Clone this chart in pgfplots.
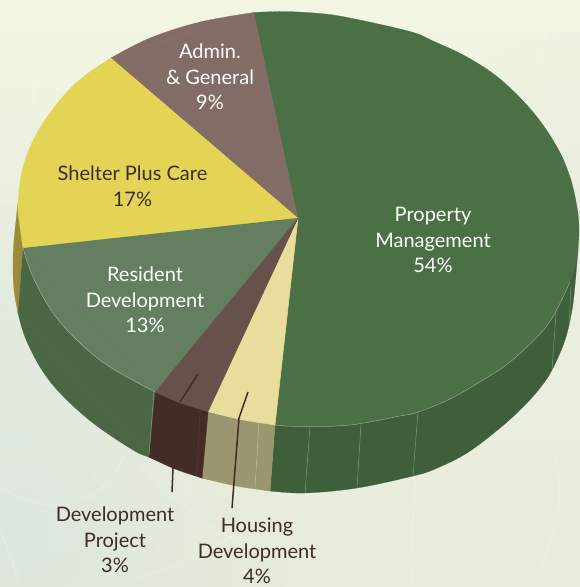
\documentclass[border=0pt]{standalone}
\usepackage{pgfplots}
\pgfplotsset{compat=1.18}
\usepackage{fontspec}
\setmainfont{Lato}
\usetikzlibrary{fadings}
\tikzfading[name=radfade,inner color=transparent!0,outer color=transparent!100]
\definecolor{cprop}{HTML}{4C7046}
\definecolor{cadmin}{HTML}{836C66}
\definecolor{cshel}{HTML}{E4D456}
\definecolor{cres}{HTML}{637F5F}
\definecolor{cdev}{HTML}{67514B}
\definecolor{chou}{HTML}{E9DD9C}
\definecolor{wprop}{HTML}{3E5F39}
\definecolor{wres}{HTML}{4A6645}
\definecolor{wdev}{HTML}{432B26}
\definecolor{whou}{HTML}{9A9670}
\definecolor{wshel}{HTML}{9A8C3A}
\definecolor{txt}{HTML}{3F2B28}
\definecolor{bgtop}{HTML}{F1F5E1}
\definecolor{bgbot}{HTML}{E7EBDB}
\definecolor{bgleft}{HTML}{D4E3E2}
\pgfplotsset{seam/.style={fill=#1,draw=#1,line width=0.5pt,line join=round},
  curve/.style={smooth,tension=0.6,fill=#1,draw=#1,line width=0.2pt},
  arc/.style={smooth,tension=0.6,white,opacity=0.35,line width=0.5pt},
  div/.style={white,opacity=0.35,line width=0.5pt}}
\begin{document}
\begin{tikzpicture}[every node/.style={font=\fontsize{20}{25.7}\selectfont,align=center,inner sep=0pt}]
\begin{axis}[scale only axis,width=580pt,height=587pt,xmin=0,xmax=580,ymin=0,ymax=587,y dir=reverse,hide axis,clip=true]
% background
\shade[top color=bgtop,bottom color=bgbot] (axis cs:0,0) rectangle (axis cs:580,587);
\fill[bgleft,opacity=0.5,path fading=radfade] (axis cs:20,530) circle (270pt);
\fill[bgleft,opacity=0.30,path fading=radfade] (axis cs:0,300) circle (200pt);
\fill[bgleft,opacity=0.22,path fading=radfade] (axis cs:580,200) circle (170pt);
% faint decorative arcs of the backdrop
\addplot[arc] coordinates {(0,487)(37,503)(74,503)(107,483)(126,453)};
\addplot[arc] coordinates {(133,457)(174,497)(222,533)(266,553)};
\addplot[arc] coordinates {(122,583)(192,557)(307,495)};
\addplot[arc] coordinates {(555,457)(559,507)(536,580)};
\addplot[arc] coordinates {(416,480)(411,557)(414,587)};
\addplot[arc] coordinates {(83,0)(35,85)(43,115)};
\addplot[arc] coordinates {(0,80)(35,85)(60,90)};
\addplot[arc] coordinates {(98,0)(102,33)(100,57)};
\addplot[arc] coordinates {(10,20)(35,85)(20,133)};
\addplot[arc] coordinates {(547,0)(540,100)};
\addplot[arc] coordinates {(0,530)(12,560)(20,587)};
% --- walls: bottom rim arcs + quads
\addplot[seam=wshel] coordinates {(18,203)(23,248)(18,313)};
\addplot[curve=wshel] coordinates {(18,203)(14,240)(13,267)(14,290)(18,313)};
\addplot[seam=wprop] coordinates {(275,425)(578,250)(270,491)};
\addplot[curve=wprop] coordinates {(270,491)(305,493)(357,488)(413,476)(435,469)(467,453)(500,428)(523,407)(540,388)(552,370)(565,340)(572,310)(575,285)(578,250)};
\addplot[seam=wres] coordinates {(23,248)(155,392)(149,457)(18,313)};
\addplot[curve=wres] coordinates {(149,457)(133,450)(93,423)(60,393)(40,367)(25,337)(18,313)};
\addplot[seam=whou] coordinates {(208,412)(275,425)(270,491)(202,478)};
\addplot[curve=whou] coordinates {(202,478)(236,486)(270,491)};
\addplot[seam=wdev] coordinates {(155,392)(208,412)(202,478)(149,457)};
\addplot[curve=wdev] coordinates {(149,457)(175,469)(202,478)};
% wall dividers
\addplot[div] coordinates {(310,427)(305,493)};
\addplot[div] coordinates {(361,424)(357,488)};
\addplot[div] coordinates {(418,412)(413,476)};
\addplot[div] coordinates {(556,313)(552,370)};
\addplot[div] coordinates {(571,287)(569,323)};
\addplot[div] coordinates {(259,423)(255,488)};
\addplot[div] coordinates {(154,392)(149,455)};
\addplot[cdev,opacity=0.35,line width=0.5pt] coordinates {(200,410)(197,476)};
% --- top face
\addplot[seam=cprop] coordinates {(298,218)(254,12.5)(275,425)};
\addplot[curve=cprop] coordinates {(254,12.5)(283,11.5)(320,13.5)(350,18)(410,31.5)(433,41)(467,57)(500,79)(533,112)(557,147)(570,177)(577,207)(579,230)(577,257)(570,282)(555,313)(540,334)(510,362)(483,380)(450,399)(418,412)(400,416)(350,425)(300,426.5)(275,425)};
\addplot[seam=cadmin] coordinates {(298,218)(111,58)(254,12.5)};
\addplot[curve=cadmin] coordinates {(111,58)(150,38)(200,22)(254,12.5)};
\addplot[seam=cshel] coordinates {(298,218)(23,248)(111,58)};
\addplot[curve=cshel] coordinates {(23,248)(20,227)(18,203)(23,167)(37,133)(60,100)(83,77)(111,58)};
\addplot[seam=cres] coordinates {(298,218)(155,392)(23,248)};
\addplot[curve=cres] coordinates {(155,392)(110,367)(80,343)(53,313)(33,277)(23,248)};
\addplot[seam=chou] coordinates {(298,218)(275,425)(208,411.5)};
\addplot[curve=chou] coordinates {(275,425)(240,419.5)(208,411.5)};
\addplot[seam=cdev] coordinates {(298,218)(208,411.5)(155,392)};
\addplot[curve=cdev] coordinates {(208,411.5)(180,403)(155,392)};
% rim highlights
\addplot[smooth,tension=0.6,white,opacity=0.4,line width=0.5pt] coordinates {(570,282)(555,313)(540,334)(510,362)(483,380)(450,399)(418,412)(400,416)(350,425)(300,426.5)(275,425)};
\addplot[smooth,tension=0.6,white,opacity=0.4,line width=0.5pt] coordinates {(155,392)(110,367)(80,343)(53,313)(33,277)(23,248)};
% leaders
\addplot[txt,line width=1.5pt] coordinates {(198,374)(180,402)};
\addplot[txt,line width=1.5pt] coordinates {(173,468)(172,492)};
\addplot[txt,line width=1.5pt] coordinates {(248,392)(239,418)(232,508)};
% labels
\node[text=white] at (axis cs:210,77) {Admin.\\ \& General\\ 9\%};
\node[text=txt] at (axis cs:132.5,186) {Shelter Plus Care\\ 17\%};
\node[text=white] at (axis cs:145,300) {Resident\\ Development\\ 13\%};
\node[text=white] at (axis cs:433,240) {Property\\ Management\\ 54\%};
\node[text=txt] at (axis cs:115,540) {Development\\ Project\\ 3\%};
\node[text=txt] at (axis cs:257,551) {Housing\\ Development\\ 4\%};
\end{axis}
\end{tikzpicture}
\end{document}
